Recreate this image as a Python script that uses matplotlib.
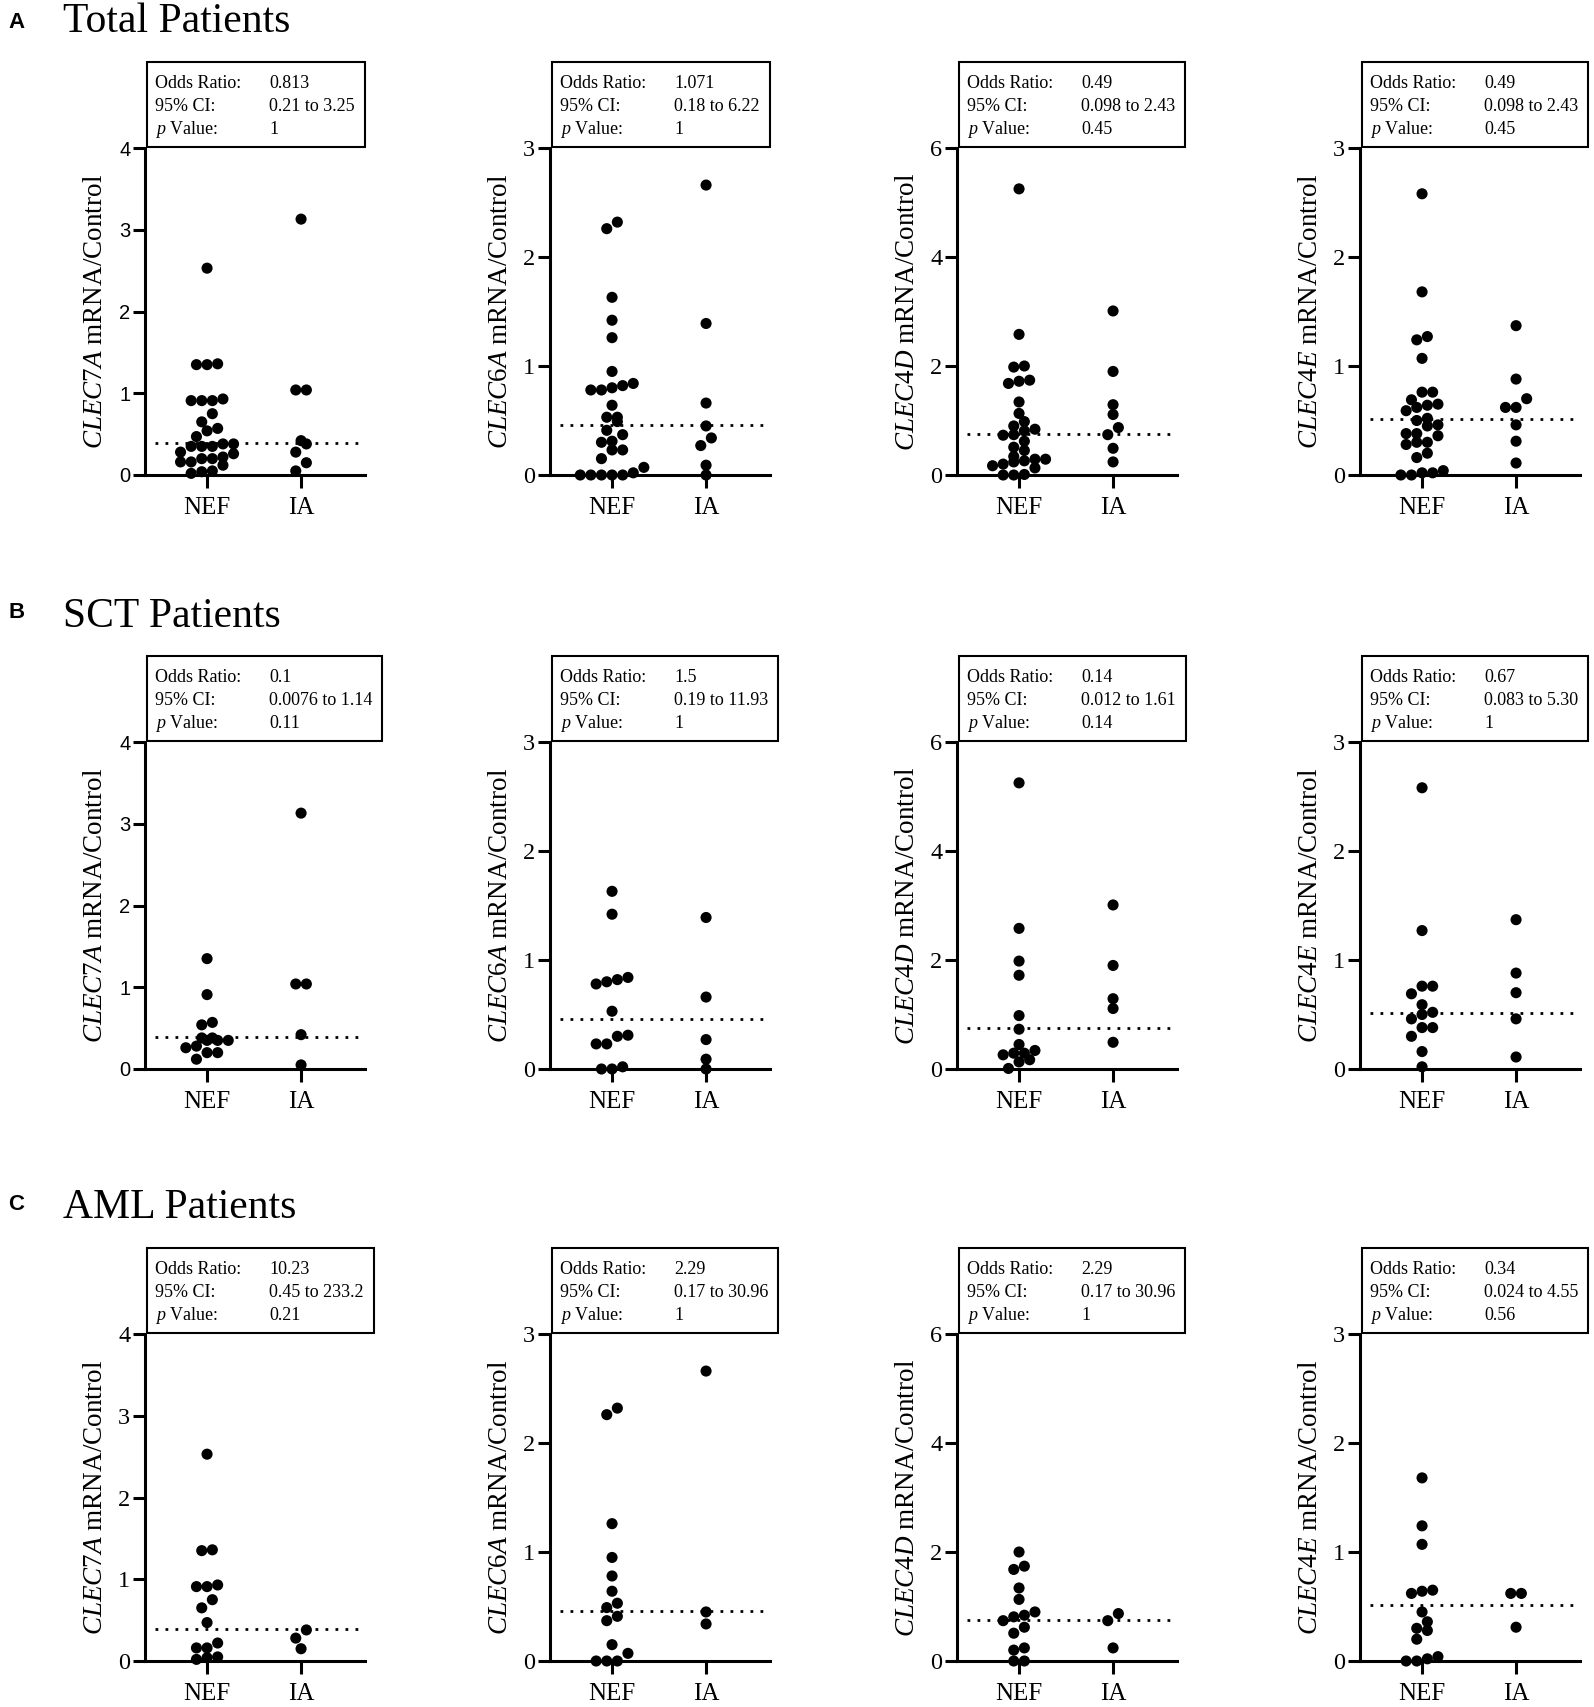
import matplotlib
matplotlib.use("Agg")
import matplotlib.pyplot as plt
import numpy as np
from matplotlib.patches import Rectangle

plt.rcParams['font.family'] = ['Liberation Serif', 'DejaVu Serif']
plt.rcParams['mathtext.fontset'] = 'custom'
plt.rcParams['mathtext.rm'] = 'Liberation Serif'
plt.rcParams['mathtext.it'] = 'Liberation Serif:italic'

# ---------------- data ----------------
genes = ["CLEC7A", "CLEC6A", "CLEC4D", "CLEC4E"]
row_titles = ["Total Patients", "SCT Patients", "AML Patients"]
row_letters = ["A", "B", "C"]
groups = ["NEF", "IA"]
y_max = [4, 3, 6, 3]
y_step = [1, 1, 2, 1]
cutoff = [0.39, 0.46, 0.75, 0.51]

clec7a_sct_nef = [1.35, 0.91, 0.54, 0.57, 0.38, 0.38, 0.35, 0.35, 0.35, 0.26, 0.28, 0.20, 0.20, 0.12]
clec7a_sct_ia = [3.13, 1.04, 1.04, 0.42, 0.05]
clec7a_aml_nef = [2.53, 1.35, 1.36, 0.91, 0.91, 0.93, 0.75, 0.65, 0.47, 0.22, 0.16, 0.16, 0.02, 0.05, 0.04]
clec7a_aml_ia = [0.38, 0.28, 0.15]

clec6a_sct_nef = [1.63, 1.42, 0.80, 0.82, 0.78, 0.84, 0.53, 0.31, 0.23, 0.23, 0.30, 0.0, 0.02, 0.0]
clec6a_sct_ia = [1.39, 0.66, 0.27, 0.09, 0.0]
clec6a_aml_nef = [2.32, 2.26, 1.26, 0.95, 0.78, 0.64, 0.49, 0.53, 0.37, 0.41, 0.15, 0.07, 0.0, 0.0, 0.0]
clec6a_aml_ia = [2.66, 0.45, 0.34]

clec4d_sct_nef = [5.25, 2.58, 1.98, 1.72, 0.98, 0.73, 0.45, 0.29, 0.26, 0.34, 0.29, 0.17, 0.13, 0.01]
clec4d_sct_ia = [3.01, 1.90, 1.29, 1.11, 0.49]
clec4d_aml_nef = [2.00, 1.74, 1.68, 1.34, 1.13, 0.84, 0.90, 0.74, 0.81, 0.62, 0.51, 0.24, 0.20, 0.0, 0.0]
clec4d_aml_ia = [0.87, 0.74, 0.24]

clec4e_sct_nef = [2.58, 1.27, 0.76, 0.76, 0.69, 0.59, 0.52, 0.50, 0.46, 0.38, 0.38, 0.30, 0.16, 0.02]
clec4e_sct_ia = [1.37, 0.88, 0.70, 0.46, 0.11]
clec4e_aml_nef = [1.68, 1.24, 1.07, 0.62, 0.64, 0.65, 0.45, 0.36, 0.30, 0.28, 0.20, 0.04, 0.0, 0.0, 0.02]
clec4e_aml_ia = [0.62, 0.62, 0.31]

sct = {"CLEC7A": (clec7a_sct_nef, clec7a_sct_ia), "CLEC6A": (clec6a_sct_nef, clec6a_sct_ia),
       "CLEC4D": (clec4d_sct_nef, clec4d_sct_ia), "CLEC4E": (clec4e_sct_nef, clec4e_sct_ia)}
aml = {"CLEC7A": (clec7a_aml_nef, clec7a_aml_ia), "CLEC6A": (clec6a_aml_nef, clec6a_aml_ia),
       "CLEC4D": (clec4d_aml_nef, clec4d_aml_ia), "CLEC4E": (clec4e_aml_nef, clec4e_aml_ia)}
total = {g: (sct[g][0] + aml[g][0], sct[g][1] + aml[g][1]) for g in genes}
datasets = [total, sct, aml]

odds_ratio = [["0.813", "1.071", "0.49", "0.49"],
              ["0.1", "1.5", "0.14", "0.67"],
              ["10.23", "2.29", "2.29", "0.34"]]
ci95 = [["0.21 to 3.25", "0.18 to 6.22", "0.098 to 2.43", "0.098 to 2.43"],
        ["0.0076 to 1.14", "0.19 to 11.93", "0.012 to 1.61", "0.083 to 5.30"],
        ["0.45 to 233.2", "0.17 to 30.96", "0.17 to 30.96", "0.024 to 4.55"]]
p_value = [["1", "1", "0.45", "0.45"],
           ["0.11", "1", "0.14", "1"],
           ["0.21", "1", "1", "0.56"]]

# ---------------- layout ----------------
W, H = 1594, 1707
fig = plt.figure(figsize=(W / 100, H / 100), dpi=100)
col_left = [145, 550, 957, 1360]
ax_w = 220
row_top = [148, 742, 1334]
ax_h = 327
title_base = [32, 627, 1218]
letter_y = [22, 613, 1204]
d_px = 10.6  # marker diameter in pixels


def fx(x):
    return x / W


def fy(y):
    return 1 - y / H


def swarm(ax, vals, center):
    vals = np.asarray(vals, float)
    t = ax.transData
    p0 = t.transform((0, 0))
    p1 = t.transform((1, 1))
    px_x = p1[0] - p0[0]
    px_y = p1[1] - p0[1]
    ypx = vals * px_y
    order = np.argsort(vals, kind="stable")
    rows, cur = [], [order[0]]
    for i in order[1:]:
        if ypx[i] - ypx[cur[0]] < d_px * 0.85:
            cur.append(i)
        else:
            rows.append(cur)
            cur = [i]
    rows.append(cur)
    xs = np.zeros(len(vals))
    for r in rows:
        n = len(r)
        for k, idx in enumerate(r):
            xs[idx] = center + (k - (n - 1) / 2) * d_px / px_x
    return xs


renderer = fig.canvas.get_renderer()

for ri in range(3):
    fig.text(fx(8), fy(letter_y[ri]), row_letters[ri], fontsize=16, fontweight="bold",
             family="Liberation Sans", va="center", ha="left")
    fig.text(fx(63), fy(title_base[ri]), row_titles[ri], fontsize=30, va="baseline", ha="left")
    for ci, g in enumerate(genes):
        left = col_left[ci]
        top = row_top[ri]
        ax = fig.add_axes([fx(left), fy(top + ax_h), ax_w / W, ax_h / H])
        ax.set_xlim(-0.66, 1.68)
        ax.set_ylim(0, y_max[ci])
        ax.set_yticks(np.arange(0, y_max[ci] + 0.01, y_step[ci]))
        ax.set_xticks([0, 1])
        ax.set_xticklabels(groups)
        for s in ["top", "right"]:
            ax.spines[s].set_visible(False)
        for s in ["left", "bottom"]:
            ax.spines[s].set_linewidth(2.2)
        ax.tick_params(axis="y", direction="out", length=9, width=2.2, labelsize=17.5, pad=1.5)
        ax.tick_params(axis="x", direction="out", length=9, width=2.2, labelsize=18, pad=7)
        if ci == 0 and ri < 2:
            for lb in ax.get_yticklabels():
                lb.set_fontfamily("Liberation Sans")
                lb.set_fontsize(14.5)
        ax.set_ylabel(r"$\it{" + g + "}$ mRNA/Control", fontsize=19.5)
        ax.yaxis.set_label_coords(-0.17, 0.5)

        ax.hlines(cutoff[ci], -0.55, 1.66, colors="black", linewidth=2.0,
                  linestyles=(0, (1, 2.6)), zorder=2)
        nef, ia = datasets[ri][g]
        for gi, vals in enumerate([nef, ia]):
            xs = swarm(ax, vals, gi)
            ax.scatter(xs, vals, s=64, color="black", edgecolors="none",
                       zorder=5, clip_on=False)

        # stats box
        b_top = top - 86
        b_bot = top - 1
        b_left = left + 2
        lx = b_left + 8
        vx = b_left + 122
        labels = ["Odds Ratio:", "95% CI:", r"$\it{p}$ Value:"]
        vals_txt = [odds_ratio[ri][ci], ci95[ri][ci], p_value[ri][ci]]
        offs = [26, 49, 72]
        maxr = 0
        for k in range(3):
            fig.text(fx(lx), fy(b_top + offs[k]), labels[k], fontsize=13, va="baseline", ha="left")
            tv = fig.text(fx(vx), fy(b_top + offs[k]), vals_txt[k], fontsize=13, va="baseline", ha="left")
            bb = tv.get_window_extent(renderer)
            maxr = max(maxr, bb.x1)
        b_right = max(left + ax_w, maxr + 10)
        rect = Rectangle((fx(b_left), fy(b_bot)), (b_right - b_left) / W, (b_bot - b_top) / H,
                         transform=fig.transFigure, fill=False, edgecolor="black", linewidth=1.5)
        fig.patches.append(rect)

fig.savefig("out.png", dpi=100, facecolor="white")
